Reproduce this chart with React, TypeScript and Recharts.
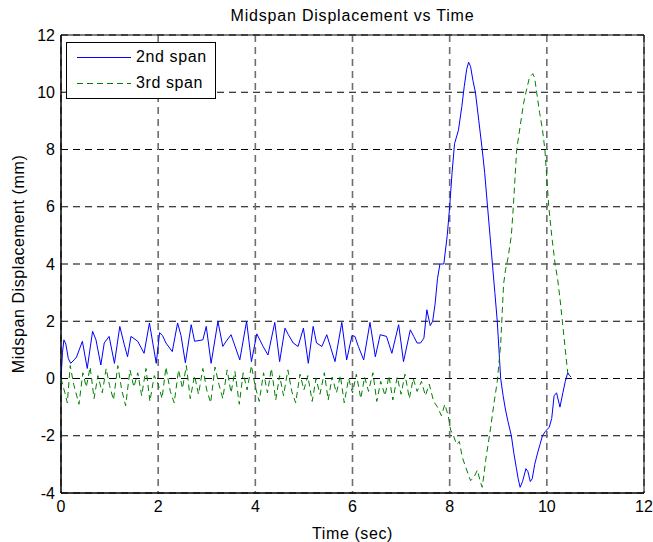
import React from "react";
import {
  LineChart,
  Line,
  XAxis,
  YAxis,
  CartesianGrid,
  ReferenceArea,
  Legend,
} from "recharts";

// 2nd span (time in s, displacement in mm)
const span2Time = [
  0, 0.03, 0.06, 0.1, 0.15, 0.2, 0.27, 0.32, 0.44, 0.54, 0.65, 0.72, 0.82, 0.89,
  0.99, 1.1, 1.21, 1.3, 1.37, 1.44, 1.58, 1.71, 1.82, 1.96, 2.03, 2.09, 2.16,
  2.29, 2.4, 2.47, 2.56, 2.68, 2.75, 2.92, 2.99, 3.09, 3.23, 3.33, 3.4, 3.5,
  3.68, 3.82, 3.92, 4.03, 4.16, 4.26, 4.4, 4.5, 4.61, 4.68, 4.78, 4.88, 4.99,
  5.09, 5.19, 5.26, 5.37, 5.47, 5.64, 5.78, 5.88, 5.99, 6.05, 6.12, 6.23, 6.36,
  6.47, 6.57, 6.7, 6.81, 6.95, 7.05, 7.19, 7.26, 7.33, 7.4, 7.47, 7.53, 7.6,
  7.65, 7.7, 7.75, 7.8, 7.88, 7.95, 8.0, 8.05, 8.1, 8.18, 8.25, 8.3, 8.35,
  8.39, 8.43, 8.48, 8.53, 8.6, 8.67, 8.72, 8.78, 8.83, 8.88, 8.93, 8.98, 9.05,
  9.1, 9.15, 9.2, 9.27, 9.32, 9.37, 9.41, 9.45, 9.5, 9.57, 9.61, 9.66, 9.7,
  9.75, 9.81, 9.86, 9.91, 9.97, 10.05, 10.1, 10.15, 10.2, 10.27, 10.33, 10.38,
  10.43, 10.47, 10.5,
];
const span2Disp = [
  0, 0.9, 1.35, 1.2, 0.7, 0.53, 0.65, 0.75, 1.3, 0.35, 1.65, 1.35, 0.47, 1.24,
  1.47, 0.53, 1.82, 1.2, 0.76, 1.47, 1.3, 0.88, 1.94, 0.53, 1.6, 1.5, 1.24,
  0.94, 1.94, 1.5, 0.55, 1.88, 1.3, 1.35, 1.82, 0.53, 2.0, 1.12, 1.3, 1.53,
  0.65, 2.0, 0.59, 1.56, 1.12, 0.82, 1.96, 0.59, 1.76, 1.53, 1.24, 1.12, 1.76,
  0.53, 1.82, 1.24, 1.12, 1.53, 0.59, 1.96, 0.65, 1.5, 1.47, 1.12, 0.65, 1.96,
  0.76, 1.53, 1.47, 0.88, 1.88, 0.59, 1.7, 1.47, 1.24, 1.24, 1.41, 2.4, 1.85,
  2.0, 2.6, 3.5, 4.0, 4.0, 5.0, 6.0, 7.2, 8.2, 8.67, 9.5, 10.2, 10.8, 11.05,
  10.9, 10.4, 10.0, 9.0, 8.0, 7.2, 6.0, 5.0, 4.0, 3.0, 2.0, 0.0, -0.6, -1.1,
  -1.5, -2.0, -2.6, -3.1, -3.5, -3.8, -3.6, -3.15, -3.25, -3.6, -3.5, -3.0,
  -2.6, -2.3, -2.0, -1.85, -1.7, -1.4, -0.6, -0.5, -1.0, -0.5, -0.1, 0.2, 0.1,
  0.05,
];

// 3rd span
const span3Time = [
  0, 0.08, 0.13, 0.19, 0.26, 0.37, 0.45, 0.52, 0.6, 0.68, 0.76, 0.85, 0.93, 1.0,
  1.08, 1.17, 1.25, 1.33, 1.42, 1.5, 1.58, 1.66, 1.75, 1.83, 1.92, 2.0, 2.08,
  2.16, 2.25, 2.33, 2.42, 2.5, 2.58, 2.66, 2.75, 2.83, 2.92, 3.0, 3.08, 3.17,
  3.25, 3.33, 3.42, 3.5, 3.58, 3.67, 3.75, 3.83, 3.92, 4.0, 4.08, 4.17, 4.25,
  4.33, 4.42, 4.5, 4.58, 4.67, 4.75, 4.83, 4.92, 5.0, 5.08, 5.17, 5.25, 5.33,
  5.42, 5.5, 5.58, 5.67, 5.75, 5.83, 5.92, 6.0, 6.08, 6.17, 6.25, 6.33, 6.42,
  6.5, 6.58, 6.67, 6.75, 6.83, 6.92, 7.0, 7.08, 7.17, 7.25, 7.33, 7.42, 7.5,
  7.58, 7.67, 7.75, 7.83, 7.9, 7.97, 8.02, 8.08, 8.14, 8.2, 8.26, 8.33, 8.43,
  8.5, 8.57, 8.63, 8.67, 8.71, 8.74, 8.84, 8.91, 8.98, 9.05, 9.11, 9.15, 9.2,
  9.27, 9.31, 9.38, 9.45, 9.52, 9.57, 9.64, 9.71, 9.75, 9.79, 9.85, 9.91, 9.96,
  10.0, 10.04, 10.1, 10.17, 10.22, 10.27, 10.32, 10.38, 10.43, 10.47,
];
const span3Disp = [
  0, -0.5, -0.85, 0.45, -0.2, -0.9, 0.2, -0.3, 0.4, -0.7, 0.1, -0.5, 0.35,
  -0.25, -0.75, 0.45, -0.4, -0.95, 0.3, -0.3, 0.2, -0.6, 0.35, -0.8, 0.1, -0.2,
  -0.7, 0.4, -0.45, -0.85, 0.3, -0.35, 0.45, -0.7, 0.1, -0.55, 0.35, -0.4,
  -0.85, 0.4, -0.2, -0.7, 0.3, -0.5, 0.25, -0.9, 0.2, -0.4, 0.45, -0.3, -0.8,
  0.2, -0.5, 0.35, -0.75, 0.1, -0.6, 0.3, -0.45, -0.85, 0.15, -0.4, 0.1, -0.8,
  0.0, -0.55, 0.2, -0.75, 0.05, -0.5, 0.1, -0.85, 0.0, -0.5, 0.15, -0.7, 0.05,
  -0.45, 0.2, -0.8, -0.1, -0.6, 0.1, -0.75, 0.05, -0.55, 0.15, -0.7, 0.0,
  -0.45, -0.1, -0.6, -0.2, -0.8, -1.0, -1.3, -0.9, -1.3, -1.8, -2.0, -2.3,
  -2.2, -2.75, -3.1, -3.57, -3.45, -3.2, -3.6, -3.8, -3.3, -2.87, -1.76, -0.89,
  -0.1, 1.2, 3.3, 3.8, 4.2, 5.0, 6.0, 8.0, 8.8, 9.6, 10.0, 10.5, 10.65, 10.5,
  10.0, 9.3, 8.7, 8.0, 7.0, 6.0, 5.0, 4.0, 3.5, 2.8, 2.0, 1.0, 0.2, 0.05,
];

const xTicks = [0, 2, 4, 6, 8, 10, 12];
const yTicks = [-4, -2, 0, 2, 4, 6, 8, 10, 12];

const span2 = span2Time.map((t, i) => ({ t, v: span2Disp[i] }));
const span3 = span3Time.map((t, i) => ({ t, v: span3Disp[i] }));

const FONT = "'Liberation Sans', Arial, sans-serif";

const LegendBox = () => (
  <div
    style={{
      position: "relative",
      width: 150,
      height: 57,
      border: "1px solid #000",
      background: "#fff",
      fontFamily: FONT,
      fontSize: 16,
      letterSpacing: 0.6,
      color: "#000",
      boxSizing: "border-box",
    }}
  >
    {[
      { name: "2nd span", color: "#0000ff", dash: undefined },
      { name: "3rd span", color: "#008000", dash: "6 4" },
    ].map((item, i) => (
      <div
        key={item.name}
        style={{
          position: "absolute",
          left: 0,
          top: i === 0 ? 5 : 31,
          height: 18,
          display: "flex",
          alignItems: "center",
        }}
      >
        <svg width={69} height={18} style={{ display: "block" }}>
          <line
            x1={10}
            x2={64}
            y1={9.5}
            y2={9.5}
            stroke={item.color}
            strokeWidth={1}
            strokeDasharray={item.dash}
          />
        </svg>
        <span style={{ lineHeight: "18px" }}>{item.name}</span>
      </div>
    ))}
  </div>
);

export default function App() {
  return (
    <div
      style={{
        position: "absolute",
        left: 0,
        top: 0,
        width: 653,
        height: 542,
        background: "#fff",
      }}
    >
      <div
        style={{
          position: "absolute",
          left: 61,
          width: 583,
          top: 7,
          textAlign: "center",
          fontFamily: FONT,
          fontSize: 16,
          letterSpacing: 0.8,
          color: "#000",
        }}
      >
        Midspan Displacement vs Time
      </div>
      <LineChart
        width={653}
        height={542}
        margin={{ top: 35, right: 9, bottom: 0, left: 0 }}
        style={{ fontFamily: FONT }}
      >
        <CartesianGrid
          vertical={false}
          stroke="#000"
          strokeDasharray="7 5"
          strokeWidth={1}
        />
        <CartesianGrid
          horizontal={false}
          stroke="#6e6e6e"
          strokeDasharray="7 5"
          strokeWidth={1.6}
        />
        <XAxis
          dataKey="t"
          type="number"
          domain={[0, 12]}
          ticks={xTicks}
          allowDataOverflow
          height={49}
          tickLine={false}
          tickSize={6}
          tickMargin={2}
          axisLine={{ stroke: "#000" }}
          tick={{ fill: "#000", fontSize: 16 }}
          label={{
            value: "Time (sec)",
            position: "insideBottom",
            offset: 3,
            fill: "#000",
            fontSize: 16,
            letterSpacing: 0.6,
          }}
        />
        <YAxis
          type="number"
          domain={[-4, 12]}
          ticks={yTicks}
          allowDataOverflow
          width={61}
          tickLine={false}
          tickSize={5}
          tickMargin={1}
          axisLine={{ stroke: "#000" }}
          tick={{ fill: "#000", fontSize: 16 }}
          label={{
            value: "Midspan Displacement (mm)",
            angle: -90,
            position: "insideLeft",
            offset: 18,
            fill: "#000",
            fontSize: 16,
            letterSpacing: 0.6,
            style: { textAnchor: "middle" },
          }}
        />
        <Line
          data={span2}
          dataKey="v"
          name="2nd span"
          type="linear"
          stroke="#0000ff"
          strokeWidth={1}
          dot={false}
          isAnimationActive={false}
        />
        <Line
          data={span3}
          dataKey="v"
          name="3rd span"
          type="linear"
          stroke="#008000"
          strokeWidth={1}
          strokeDasharray="6 4"
          dot={false}
          isAnimationActive={false}
        />
        <ReferenceArea
          x1={0}
          x2={12}
          y1={-4}
          y2={12}
          fill="none"
          fillOpacity={0}
          stroke="#000"
          strokeWidth={1}
        />
        <Legend
          layout="vertical"
          align="center"
          verticalAlign="middle"
          content={() => <LegendBox />}
          wrapperStyle={{ left: 66, top: 42, width: 150, height: 57 }}
        />
      </LineChart>
    </div>
  );
}
